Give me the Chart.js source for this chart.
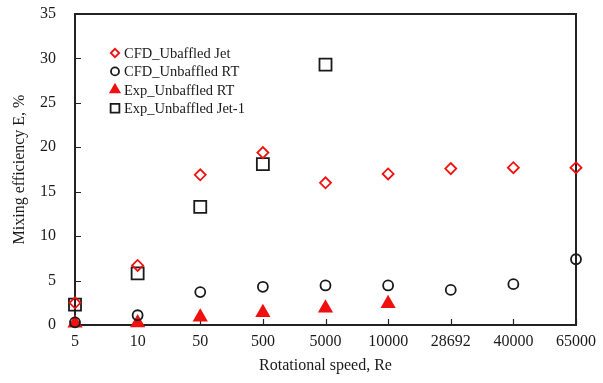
<!DOCTYPE html>
<html lang="de">
<head>
<meta charset="utf-8">
<title>Mixing efficiency</title>
<script src="https://cdn.jsdelivr.net/npm/chart.js@4/dist/chart.umd.min.js"></script>
<style>
  html, body { margin: 0; padding: 0; background: #fff; }
  canvas { display: block; }
</style>
</head>
<body>
<canvas id="mischChart" width="603" height="383"></canvas>
<script>
'use strict';

// Kategorien der x-Achse (Re-Zahlen als Text, gleichmäßig verteilt)
const KATEGORIEN = ['5', '10', '50', '500', '5000', '10000', '28692', '40000', '65000'];

// Messreihen: Mischeffizienz E in %
const CFD_JET   = [2.5, 6.7, 16.9, 19.4, 16.0, 17.0, 17.6, 17.7, 17.7];
const CFD_RT    = [0.3, 1.1, 3.7, 4.3, 4.45, 4.45, 3.95, 4.6, 7.4];
const EXP_RT    = [0.2, 0.25, 0.9, 1.4, 1.9, 2.4, null, null, null];
const EXP_JET_1 = [2.3, 5.8, 13.3, 18.1, 29.3, null, null, null, null];

// Beschriftung der y-Achse
const Y_TICKS = [0, 5, 10, 15, 20, 25, 30, 35];

const ROT     = '#f01010';
const SCHWARZ = '#1a1a1a';
const SCHRIFT = '"Liberation Serif", "Times New Roman", serif';

// Reihe als reine Punktwolke (keine Verbindungslinie)
function reihe(label, daten, stil, radius, farbe, gefuellt) {
  return {
    label,
    data:             daten,
    showLine:         false,
    pointStyle:       stil,
    pointRadius:      radius,
    pointHoverRadius: radius,
    pointBorderWidth: 1.8,
    borderColor:      farbe,
    backgroundColor:  gefuellt ? farbe : 'rgba(0,0,0,0)',
    clip:             false,
  };
}

const datasets = [
  reihe('CFD_Ubaffled Jet',    CFD_JET,   'rectRot',  5.5, ROT,     false),
  reihe('CFD_Unbaffled RT',    CFD_RT,    'circle',   5,   SCHWARZ, false),
  reihe('Exp_Unbaffled RT',    EXP_RT,    'triangle', 7,   ROT,     true),
  reihe('Exp_Unbaffled Jet-1', EXP_JET_1, 'rect',     8.5, SCHWARZ, false),
];

// Rahmen ums Diagramm und nach innen zeigende Teilstriche
const rahmenPlugin = {
  id: 'rahmen',
  beforeDatasetsDraw(chart) {
    const { ctx, chartArea: ca, scales } = chart;
    ctx.save();
    ctx.strokeStyle = '#222';
    ctx.lineWidth = 2;
    ctx.strokeRect(ca.left, ca.top, ca.right - ca.left, ca.bottom - ca.top);

    ctx.lineWidth = 1.2;
    ctx.beginPath();
    const x = scales.x;
    x.ticks.forEach((t, i) => {
      const px = Math.round(x.getPixelForTick(i)) + 0.5;
      ctx.moveTo(px, ca.bottom);
      ctx.lineTo(px, ca.bottom - 6);
    });
    const y = scales.y;
    y.ticks.forEach((t, i) => {
      const py = Math.round(y.getPixelForTick(i)) + 0.5;
      ctx.moveTo(ca.left, py);
      ctx.lineTo(ca.left + 6, py);
    });
    ctx.stroke();
    ctx.restore();
  },
};

// Legende innerhalb der Zeichenfläche oben links
const legendePlugin = {
  id: 'legendeInnen',
  afterDatasetsDraw(chart) {
    const { ctx } = chart;
    const startX = 115;
    const startY = 53;
    const abstand = 18.4;
    const groesse = { rectRot: 4.2, circle: 4, triangle: 5.2, rect: 6.2 };

    ctx.save();
    ctx.font = '14.5px ' + SCHRIFT;
    ctx.textBaseline = 'middle';
    chart.data.datasets.forEach((ds, i) => {
      const y = startY + i * abstand;
      ctx.fillStyle   = ds.backgroundColor;
      ctx.strokeStyle = ds.borderColor;
      ctx.lineWidth   = 1.8;
      Chart.helpers.drawPoint(ctx, {
        pointStyle:  ds.pointStyle,
        radius:      groesse[ds.pointStyle],
        rotation:    0,
        borderWidth: 1.8,
      }, startX, y);
      ctx.fillStyle = SCHWARZ;
      ctx.fillText(ds.label, startX + 9, y + 1);
    });
    ctx.restore();
  },
};

new Chart(document.getElementById('mischChart'), {
  type: 'line',
  data: { labels: KATEGORIEN, datasets },
  plugins: [rahmenPlugin, legendePlugin],
  options: {
    responsive: false,
    animation:  false,
    layout: {
      autoPadding: false,
      padding: { top: 14, right: 27, left: 0, bottom: 0 },
    },
    plugins: {
      legend:  { display: false },
      tooltip: { enabled: false },
    },
    scales: {
      x: {
        type:   'category',
        offset: false,
        grid:   { display: false, drawTicks: false },
        border: { display: false },
        ticks: {
          color:       '#1a1a1a',
          font:        { family: SCHRIFT, size: 16 },
          padding:     7,
          maxRotation: 0,
          autoSkip:    false,
        },
        title: {
          display: true,
          text:    'Rotational speed, Re',
          color:   '#1a1a1a',
          font:    { family: SCHRIFT, size: 16 },
          padding: { top: 2, bottom: 8 },
        },
        afterFit(scale) { scale.height = 58; },
      },
      y: {
        min: 0,
        max: 35,
        grid:   { display: false, drawTicks: false },
        border: { display: false },
        afterBuildTicks(scale) {
          scale.ticks = Y_TICKS.map(v => ({ value: v }));
        },
        ticks: {
          color:   '#1a1a1a',
          font:    { family: SCHRIFT, size: 16 },
          padding: 19,
        },
        title: {
          display: true,
          text:    'Mixing efficiency E, %',
          color:   '#1a1a1a',
          font:    { family: SCHRIFT, size: 16 },
          padding: { top: 10, bottom: 0 },
        },
        // feste Breite; der Label-Abstand soll oben/unten keinen Rand erzwingen
        afterFit(scale) {
          scale.width = 75;
          scale.paddingTop = 0;
          scale.paddingBottom = 0;
        },
      },
    },
  },
});
</script>
</body>
</html>
